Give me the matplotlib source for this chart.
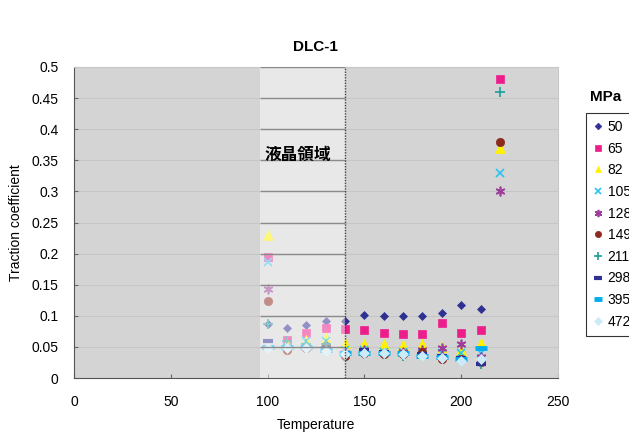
import numpy as np
import matplotlib
matplotlib.use("Agg")
import matplotlib.pyplot as plt

plt.rcParams['font.family'] = ['Liberation Sans', 'DejaVu Sans']

# 温度 (℃) と各面圧 (MPa) のトラクション係数
temperature = [100, 110, 120, 130, 140, 150, 160, 170, 180, 190, 200, 210, 220]
pressures = ['50', '65', '82', '105', '128', '149', '211', '298', '395', '472']
nan = np.nan
tc_50 = [0.087, 0.080, 0.085, 0.091, 0.092, 0.102, 0.100, 0.100, 0.100, 0.104, 0.118, 0.111, nan]
tc_65 = [0.194, 0.061, 0.072, 0.081, 0.078, 0.077, 0.073, 0.070, 0.070, 0.088, 0.072, 0.077, 0.480]
tc_82 = [0.230, 0.055, 0.061, 0.065, 0.057, 0.054, 0.054, 0.053, 0.054, 0.050, 0.045, 0.057, 0.370]
tc_105 = [0.186, 0.050, 0.060, 0.060, 0.045, 0.045, 0.042, 0.042, 0.040, 0.040, 0.040, 0.040, 0.330]
tc_128 = [0.143, 0.048, 0.050, 0.052, 0.040, 0.045, 0.040, 0.042, 0.045, 0.048, 0.055, 0.033, 0.300]
tc_149 = [0.123, 0.045, 0.048, 0.052, 0.035, 0.040, 0.038, 0.038, 0.042, 0.030, 0.030, 0.026, 0.380]
tc_211 = [0.087, 0.060, 0.055, 0.055, 0.035, 0.038, 0.038, 0.036, 0.036, 0.032, 0.028, 0.022, 0.460]
tc_298 = [0.060, 0.050, 0.048, 0.048, 0.040, 0.045, 0.042, 0.040, 0.038, 0.035, 0.032, 0.022, nan]
tc_395 = [0.050, 0.050, 0.050, 0.045, 0.040, 0.040, 0.040, 0.040, 0.036, 0.034, 0.030, 0.048, nan]
tc_472 = [0.048, 0.048, 0.048, 0.043, 0.038, 0.040, 0.040, 0.038, 0.035, 0.032, 0.028, 0.030, nan]
series = [tc_50, tc_65, tc_82, tc_105, tc_128, tc_149, tc_211, tc_298, tc_395, tc_472]

lc_start, lc_end = 96, 140  # 液晶領域

styles = [
    dict(marker='D', color='#2e3192', ms=4.5),
    dict(marker='s', color='#ec1e8c', ms=6),
    dict(marker='^', color='#fff200', ms=6.5),
    dict(marker='x', color='#29c4f0', ms=6, mew=1.2),
    dict(marker=(6, 2, 0), color='#9b3f9b', ms=7, mew=1.2),
    dict(marker='o', color='#8b2a1e', ms=6),
    dict(marker='+', color='#1a9e9e', ms=7, mew=1.2),
    dict(marker='_', color='#2e3192', ms=7, mew=3),
    dict(marker='_', color='#00aeef', ms=8, mew=3.5),
    dict(marker='D', color='#cdeaf7', ms=5),
]

fig = plt.figure(figsize=(6.29, 4.32), dpi=100)
ax = fig.add_axes([74/629, 54/432, 484/629, 311/432])
ax.set_facecolor('#d4d4d4')

yticks = np.arange(0, 0.501, 0.05)
for y in yticks:
    ax.axhline(y, color='#c6c6c6', lw=0.8, zorder=1)

for vals, label, st in zip(series, pressures, styles):
    st = dict(st)
    ms = st.pop('ms')
    mew = st.pop('mew', 0.5)
    ax.plot(temperature, vals, linestyle='none', marker=st['marker'], color=st['color'],
            markersize=ms, markeredgewidth=mew, label=label, zorder=2)

# 液晶領域のハイライト
ax.axvspan(lc_start, lc_end, color='white', alpha=0.47, lw=0, zorder=3)
ax.hlines(yticks[1:], lc_start, lc_end, color='#8a8a8a', lw=1.0, zorder=4)
ax.axvline(lc_end, color='#444444', lw=1.0, ls=(0, (1, 1)), zorder=4)
ax.text(115.5, 0.358, '液晶領域', fontsize=12, fontweight='bold', ha='center', va='center',
        family=['Noto Sans CJK JP', 'DejaVu Sans'], zorder=5)

ax.set_xlim(0, 250)
ax.set_ylim(0, 0.5)
ax.set_xticks(np.arange(0, 251, 50))
ax.set_yticks(yticks)
ax.set_yticklabels(['0', '0.05', '0.1', '0.15', '0.2', '0.25', '0.3', '0.35', '0.4', '0.45', '0.5'])
ax.tick_params(direction='in', labelsize=10, length=3, color='#666666')
ax.tick_params(axis='x', pad=12)
ax.tick_params(axis='y', pad=11)
for side in ['top', 'right']:
    ax.spines[side].set_color('#c8c8c8')
for side in ['left', 'bottom']:
    ax.spines[side].set_color('#555555')

ax.set_xlabel('Temperature', fontsize=10, labelpad=7)
ax.set_ylabel('Traction coefficient', fontsize=10, labelpad=6)
fig.text(315/629, 1 - 47/432, 'DLC-1', fontsize=11, fontweight='bold', ha='center', va='center')

fig.text(606/629, 1 - 97/432, 'MPa', fontsize=11, fontweight='bold', ha='center', va='center')
leg = ax.legend(loc='upper left', bbox_to_anchor=(586/629, 1 - 113/432),
                bbox_transform=fig.transFigure, fontsize=10, frameon=True, fancybox=False,
                markerscale=0.75, handlelength=0.7, handletextpad=0.35, labelspacing=0.55,
                borderpad=0.5, borderaxespad=0)
leg.get_frame().set_edgecolor('black')
leg.get_frame().set_linewidth(0.8)

fig.savefig('out.png', dpi=100)
